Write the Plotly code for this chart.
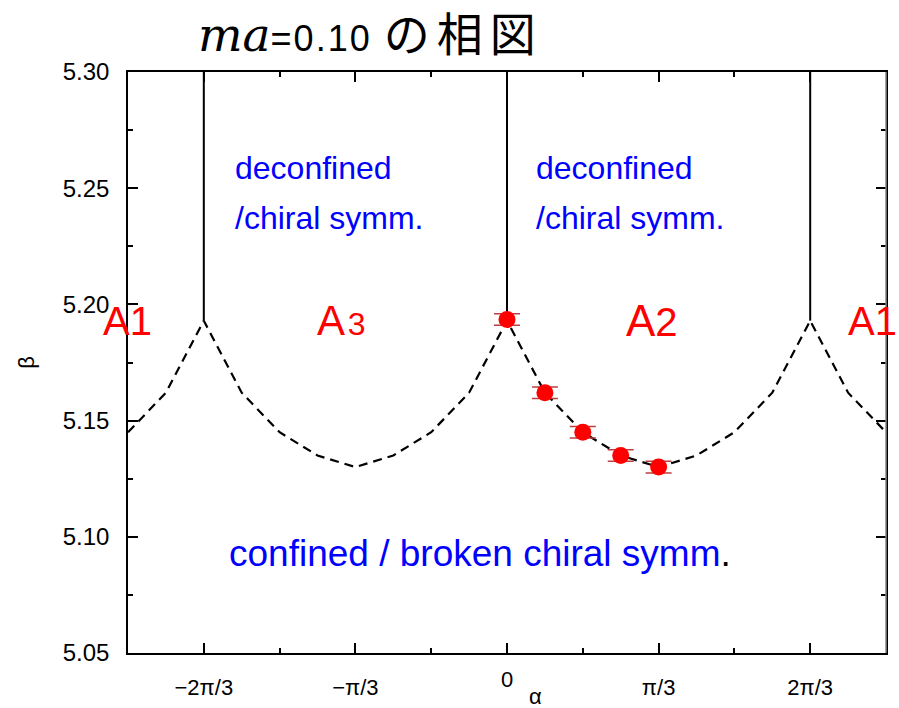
import numpy as np
import plotly.graph_objects as go

PI = np.pi

# ---------------- data ----------------
# phase boundary (dashed), alpha in units of pi/12
boundary_k = [-10, -9, -8, -7, -6, -5, -4, -3, -2, -1, 0,
              1, 2, 3, 4, 5, 6, 7, 8, 9, 10]
boundary_beta = [5.145, 5.162, 5.193, 5.162, 5.145, 5.135, 5.130, 5.135, 5.145, 5.162, 5.193,
                 5.162, 5.145, 5.135, 5.130, 5.135, 5.145, 5.162, 5.193, 5.162, 5.145]

# measured transition points (alpha in units of pi/12)
point_k = [0, 1, 2, 3, 4]
point_beta = [5.1935, 5.162, 5.145, 5.135, 5.130]
point_err = [0.0025, 0.0025, 0.0025, 0.0025, 0.0025]

# vertical (first-order) lines between A regions
vline_k = [-8, 0, 8]
vline_beta_start = [5.193, 5.193, 5.193]
beta_top = 5.30

x_tickvals_k = [-8, -4, 0, 4, 8]
x_ticktext = ["\u22122\u03c0/3", "\u2212\u03c0/3", "", "\u03c0/3", "2\u03c0/3"]
x_minor_k = [-6, -2, 2, 6]
y_tickvals = [5.05, 5.10, 5.15, 5.20, 5.25, 5.30]

def to_rad(k):
    return [v * PI / 12 for v in k]

fig = go.Figure()

# dashed boundary
fig.add_trace(go.Scatter(
    x=to_rad(boundary_k), y=boundary_beta, mode="lines",
    line=dict(color="black", width=2.2, dash="9px,6px"),
    hoverinfo="skip", showlegend=False))

# vertical solid lines
vx, vy = [], []
for k, b in zip(vline_k, vline_beta_start):
    vx += [k * PI / 12, k * PI / 12, None]
    vy += [b, beta_top, None]
fig.add_trace(go.Scatter(
    x=vx, y=vy, mode="lines", line=dict(color="black", width=2),
    hoverinfo="skip", showlegend=False))

# data points
fig.add_trace(go.Scatter(
    x=to_rad(point_k), y=point_beta, mode="markers",
    marker=dict(color="#ff0000", size=17, line=dict(width=0)),
    error_y=dict(type="data", array=point_err, visible=True,
                 color="#b84040", thickness=1.5, width=13),
    showlegend=False))

FONT = "Liberation Sans, Arial, sans-serif"
BLUE = "#0000ff"
RED = "#ff0000"

ann = []
def add(text, x, y, size, color, xanchor="center", yanchor="middle", xref="x", yref="y"):
    ann.append(dict(text=text, x=x, y=y, xref=xref, yref=yref, showarrow=False,
                    xanchor=xanchor, yanchor=yanchor,
                    font=dict(family=FONT, size=size, color=color)))

# region labels
add("deconfined", -2 * PI / 3 + 0.2, 5.2585, 32, BLUE, xanchor="left")
add("/chiral symm.", -2 * PI / 3 + 0.2, 5.237, 32, BLUE, xanchor="left")
add("deconfined", 0.187, 5.2585, 32, BLUE, xanchor="left")
add("/chiral symm.", 0.187, 5.237, 32, BLUE, xanchor="left")
add("confined / broken chiral symm<span style='color:black'>.</span>",
    -2 * PI / 3 + 0.16, 5.093, 37, BLUE, xanchor="left")

add("A<span style='font-size:40px'>1</span>", -0.001, 5.193, 40, RED, xref="paper")
add("A<span style='font-size:32px'>\u200a3</span>", -0.364 * PI, 5.193, 42, RED)
add("A<span style='font-size:40px'>2</span>", 0.318 * PI, 5.193, 44, RED)
add("A<span style='font-size:40px'>1</span>", 0.982, 5.193, 40, RED, xref="paper")

# x label pieces
ann.append(dict(text="0", x=0, y=-0.045, xref="x", yref="paper", showarrow=False,
                xanchor="center", yanchor="middle",
                font=dict(family=FONT, size=22, color="black")))
ann.append(dict(text="\u03b1", x=0.062 * PI, y=-0.075, xref="x", yref="paper", showarrow=False,
                xanchor="center", yanchor="middle",
                font=dict(family=FONT, size=22, color="black")))

title_text = ("<span style=\"font-family:'DejaVu Serif';font-style:italic;font-size:47px\">ma</span>"
              "<span style=\"font-family:'Liberation Sans';font-size:36px;letter-spacing:2px\">=0.10&nbsp;</span>"
              "<span style=\"font-family:'Noto Sans CJK JP';font-size:46px;letter-spacing:7px\">\u306e\u76f8\u56f3</span>")

fig.update_layout(
    width=899, height=708,
    margin=dict(l=128, r=13, t=72, b=55, autoexpand=False),
    paper_bgcolor="white", plot_bgcolor="white",
    title=dict(text=title_text, x=198 / 899, xanchor="left", xref="container",
               y=1 - 38 / 708, yanchor="middle", yref="container",
               font=dict(family=FONT, size=36, color="black")),
    xaxis=dict(range=[-5 * PI / 6, 5 * PI / 6], tickmode="array", automargin=False,
               tickvals=to_rad(x_tickvals_k), ticktext=x_ticktext,
               ticks="inside", ticklen=10, tickwidth=1.5, tickcolor="black",
               showline=True, linecolor="black", linewidth=1.5, mirror="ticks",
               showgrid=False, zeroline=False, ticklabelstandoff=14,
               tickfont=dict(family=FONT, size=22, color="black"),
               minor=dict(tickmode="array", tickvals=to_rad(x_minor_k), ticks="inside",
                          ticklen=5, tickwidth=1.5, tickcolor="black", showgrid=False)),
    yaxis=dict(range=[5.05, 5.30], tickmode="array", tickvals=y_tickvals, automargin=False,
               ticktext=["%.2f" % v for v in y_tickvals],
               ticks="inside", ticklen=10, tickwidth=1.5, tickcolor="black",
               showline=True, linecolor="black", linewidth=1.5, mirror="ticks",
               showgrid=False, zeroline=False, ticklabelstandoff=12,
               tickfont=dict(family=FONT, size=24, color="black"),
               title=dict(text="\u03b2", standoff=22, font=dict(family=FONT, size=22, color="black")),
               minor=dict(dtick=0.025, tick0=5.05, ticks="inside", ticklen=5, tickwidth=1.5,
                          tickcolor="black", showgrid=False)),
    annotations=ann,
    shapes=[dict(type="line", xref="paper", yref="paper", x0=1, x1=1, y0=0, y1=1,
                 line=dict(color="#888888", width=1.5), layer="above")],
)

fig.write_html("out.html")
